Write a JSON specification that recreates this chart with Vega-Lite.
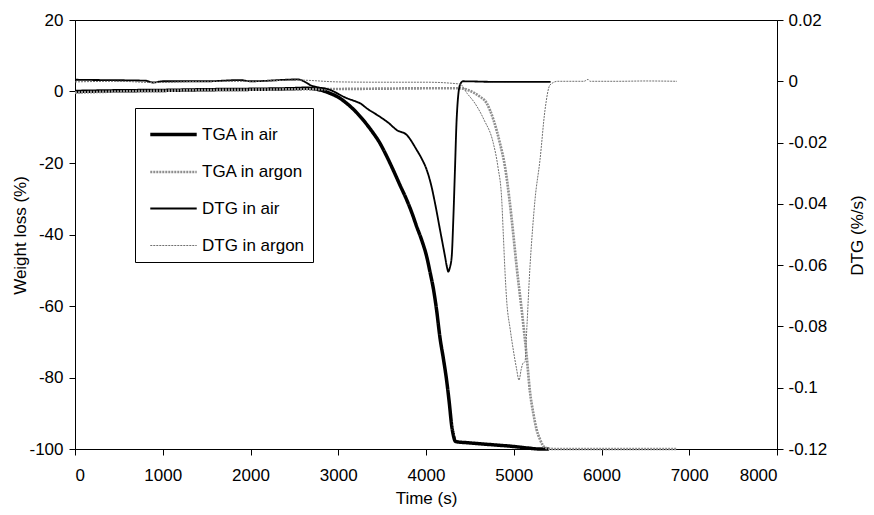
{
  "$schema": "https://vega.github.io/schema/vega-lite/v6.json",
  "width": 702,
  "height": 429,
  "autosize": {"type": "none"},
  "padding": {"left": 75, "top": 20, "right": 97, "bottom": 66},
  "background": "white",
  "config": {
    "font": "Liberation Sans",
    "view": {"stroke": "black", "strokeWidth": 1},
    "axis": {
      "grid": false,
      "domainColor": "black",
      "tickColor": "black",
      "labelColor": "black",
      "titleColor": "black",
      "labelFontSize": 17,
      "titleFontSize": 17,
      "titleFontWeight": "normal",
      "tickSize": 6
    },
    "legend": {"labelFont": "Liberation Sans"}
  },
  "data": {
    "values": [
      {"s": "TGA in air", "t": 0, "v": 0.0},
      {"s": "TGA in air", "t": 500, "v": 0.2},
      {"s": "TGA in air", "t": 1000, "v": 0.3},
      {"s": "TGA in air", "t": 1500, "v": 0.5},
      {"s": "TGA in air", "t": 2000, "v": 0.6},
      {"s": "TGA in air", "t": 2500, "v": 0.8},
      {"s": "TGA in air", "t": 2640, "v": 0.9},
      {"s": "TGA in air", "t": 2780, "v": 0.5},
      {"s": "TGA in air", "t": 2906, "v": -0.5},
      {"s": "TGA in air", "t": 3000, "v": -1.6},
      {"s": "TGA in air", "t": 3096, "v": -3.3},
      {"s": "TGA in air", "t": 3190, "v": -5.4},
      {"s": "TGA in air", "t": 3285, "v": -8.0},
      {"s": "TGA in air", "t": 3380, "v": -11.0},
      {"s": "TGA in air", "t": 3476, "v": -14.5},
      {"s": "TGA in air", "t": 3550, "v": -18.0},
      {"s": "TGA in air", "t": 3627, "v": -22.0},
      {"s": "TGA in air", "t": 3700, "v": -26.0},
      {"s": "TGA in air", "t": 3780, "v": -30.3},
      {"s": "TGA in air", "t": 3840, "v": -34.0},
      {"s": "TGA in air", "t": 3894, "v": -37.8},
      {"s": "TGA in air", "t": 3950, "v": -41.5},
      {"s": "TGA in air", "t": 4008, "v": -46.2},
      {"s": "TGA in air", "t": 4050, "v": -51.0},
      {"s": "TGA in air", "t": 4083, "v": -55.0},
      {"s": "TGA in air", "t": 4120, "v": -61.0},
      {"s": "TGA in air", "t": 4160, "v": -69.0},
      {"s": "TGA in air", "t": 4200, "v": -75.0},
      {"s": "TGA in air", "t": 4236, "v": -81.0},
      {"s": "TGA in air", "t": 4265, "v": -87.0},
      {"s": "TGA in air", "t": 4293, "v": -93.5},
      {"s": "TGA in air", "t": 4315, "v": -96.5},
      {"s": "TGA in air", "t": 4335, "v": -97.9},
      {"s": "TGA in air", "t": 4500, "v": -98.3},
      {"s": "TGA in air", "t": 4750, "v": -98.8},
      {"s": "TGA in air", "t": 5000, "v": -99.3},
      {"s": "TGA in air", "t": 5150, "v": -99.7},
      {"s": "TGA in air", "t": 5300, "v": -100.0},
      {"s": "TGA in air", "t": 5400, "v": -100.0},

      {"s": "TGA in argon", "t": 0, "v": -0.3},
      {"s": "TGA in argon", "t": 500, "v": 0.0},
      {"s": "TGA in argon", "t": 1000, "v": 0.2},
      {"s": "TGA in argon", "t": 1500, "v": 0.4},
      {"s": "TGA in argon", "t": 2000, "v": 0.5},
      {"s": "TGA in argon", "t": 2500, "v": 0.6},
      {"s": "TGA in argon", "t": 3000, "v": 0.7},
      {"s": "TGA in argon", "t": 3500, "v": 0.8},
      {"s": "TGA in argon", "t": 4000, "v": 0.9},
      {"s": "TGA in argon", "t": 4387, "v": 0.9},
      {"s": "TGA in argon", "t": 4500, "v": 0.2},
      {"s": "TGA in argon", "t": 4600, "v": -1.2},
      {"s": "TGA in argon", "t": 4692, "v": -3.3},
      {"s": "TGA in argon", "t": 4770, "v": -8.0},
      {"s": "TGA in argon", "t": 4843, "v": -14.5},
      {"s": "TGA in argon", "t": 4900, "v": -21.0},
      {"s": "TGA in argon", "t": 4950, "v": -30.0},
      {"s": "TGA in argon", "t": 4995, "v": -40.0},
      {"s": "TGA in argon", "t": 5033, "v": -49.0},
      {"s": "TGA in argon", "t": 5090, "v": -61.0},
      {"s": "TGA in argon", "t": 5147, "v": -74.0},
      {"s": "TGA in argon", "t": 5185, "v": -84.0},
      {"s": "TGA in argon", "t": 5223, "v": -90.0},
      {"s": "TGA in argon", "t": 5260, "v": -94.5},
      {"s": "TGA in argon", "t": 5299, "v": -97.3},
      {"s": "TGA in argon", "t": 5356, "v": -99.6},
      {"s": "TGA in argon", "t": 5450, "v": -100.0},
      {"s": "TGA in argon", "t": 6000, "v": -100.0},
      {"s": "TGA in argon", "t": 6860, "v": -100.0},

      {"s": "DTG in air", "t": 0, "v": 0.0005},
      {"s": "DTG in air", "t": 300, "v": 0.0004},
      {"s": "DTG in air", "t": 800, "v": 0.0002},
      {"s": "DTG in air", "t": 890, "v": -0.0004},
      {"s": "DTG in air", "t": 1000, "v": 0.0},
      {"s": "DTG in air", "t": 1500, "v": 0.0},
      {"s": "DTG in air", "t": 1880, "v": 0.0004},
      {"s": "DTG in air", "t": 2000, "v": 0.0},
      {"s": "DTG in air", "t": 2540, "v": 0.0006},
      {"s": "DTG in air", "t": 2640, "v": -0.0005},
      {"s": "DTG in air", "t": 2678, "v": -0.0012},
      {"s": "DTG in air", "t": 2906, "v": -0.0028},
      {"s": "DTG in air", "t": 3096, "v": -0.0055},
      {"s": "DTG in air", "t": 3210, "v": -0.0067},
      {"s": "DTG in air", "t": 3250, "v": -0.0072},
      {"s": "DTG in air", "t": 3324, "v": -0.0088},
      {"s": "DTG in air", "t": 3476, "v": -0.0116},
      {"s": "DTG in air", "t": 3570, "v": -0.0135},
      {"s": "DTG in air", "t": 3666, "v": -0.0159},
      {"s": "DTG in air", "t": 3780, "v": -0.0175},
      {"s": "DTG in air", "t": 3894, "v": -0.0224},
      {"s": "DTG in air", "t": 3950, "v": -0.0252},
      {"s": "DTG in air", "t": 4008, "v": -0.0289},
      {"s": "DTG in air", "t": 4060, "v": -0.034},
      {"s": "DTG in air", "t": 4103, "v": -0.0398},
      {"s": "DTG in air", "t": 4160, "v": -0.0485},
      {"s": "DTG in air", "t": 4217, "v": -0.0572},
      {"s": "DTG in air", "t": 4240, "v": -0.0608},
      {"s": "DTG in air", "t": 4254, "v": -0.0621},
      {"s": "DTG in air", "t": 4270, "v": -0.061},
      {"s": "DTG in air", "t": 4293, "v": -0.0572},
      {"s": "DTG in air", "t": 4311, "v": -0.0453},
      {"s": "DTG in air", "t": 4330, "v": -0.0289},
      {"s": "DTG in air", "t": 4349, "v": -0.0126},
      {"s": "DTG in air", "t": 4387, "v": -0.0012},
      {"s": "DTG in air", "t": 4420, "v": 0.0},
      {"s": "DTG in air", "t": 4800, "v": -0.0002},
      {"s": "DTG in air", "t": 5200, "v": -0.0002},
      {"s": "DTG in air", "t": 5420, "v": -0.0002},

      {"s": "DTG in argon", "t": 0, "v": -0.0002},
      {"s": "DTG in argon", "t": 500, "v": 0.0},
      {"s": "DTG in argon", "t": 890, "v": -0.0004},
      {"s": "DTG in argon", "t": 1500, "v": 0.0},
      {"s": "DTG in argon", "t": 2000, "v": 0.0},
      {"s": "DTG in argon", "t": 2540, "v": 0.0004},
      {"s": "DTG in argon", "t": 3000, "v": -0.0002},
      {"s": "DTG in argon", "t": 3500, "v": -0.0003},
      {"s": "DTG in argon", "t": 4000, "v": -0.0003},
      {"s": "DTG in argon", "t": 4387, "v": -0.0009},
      {"s": "DTG in argon", "t": 4470, "v": -0.004},
      {"s": "DTG in argon", "t": 4558, "v": -0.0072},
      {"s": "DTG in argon", "t": 4660, "v": -0.0125},
      {"s": "DTG in argon", "t": 4767, "v": -0.0202},
      {"s": "DTG in argon", "t": 4820, "v": -0.028},
      {"s": "DTG in argon", "t": 4863, "v": -0.0387},
      {"s": "DTG in argon", "t": 4881, "v": -0.05},
      {"s": "DTG in argon", "t": 4900, "v": -0.062},
      {"s": "DTG in argon", "t": 4919, "v": -0.0714},
      {"s": "DTG in argon", "t": 4960, "v": -0.081},
      {"s": "DTG in argon", "t": 4995, "v": -0.0877},
      {"s": "DTG in argon", "t": 5030, "v": -0.0935},
      {"s": "DTG in argon", "t": 5060, "v": -0.0975},
      {"s": "DTG in argon", "t": 5085, "v": -0.094},
      {"s": "DTG in argon", "t": 5105, "v": -0.092},
      {"s": "DTG in argon", "t": 5128, "v": -0.0915},
      {"s": "DTG in argon", "t": 5150, "v": -0.08},
      {"s": "DTG in argon", "t": 5185, "v": -0.0605},
      {"s": "DTG in argon", "t": 5215, "v": -0.048},
      {"s": "DTG in argon", "t": 5242, "v": -0.0387},
      {"s": "DTG in argon", "t": 5299, "v": -0.0257},
      {"s": "DTG in argon", "t": 5356, "v": -0.0094},
      {"s": "DTG in argon", "t": 5413, "v": -0.0012},
      {"s": "DTG in argon", "t": 5500, "v": 0.0},
      {"s": "DTG in argon", "t": 5800, "v": 0.0},
      {"s": "DTG in argon", "t": 5846, "v": 0.0006},
      {"s": "DTG in argon", "t": 5870, "v": 0.0},
      {"s": "DTG in argon", "t": 6200, "v": 0.0},
      {"s": "DTG in argon", "t": 6500, "v": 0.0001},
      {"s": "DTG in argon", "t": 6860, "v": 0.0}
    ]
  },
  "encoding": {
    "x": {
      "field": "t",
      "type": "quantitative",
      "scale": {"domain": [0, 8000], "nice": false},
      "axis": {
        "title": "Time (s)",
        "values": [0, 1000, 2000, 3000, 4000, 5000, 6000, 7000, 8000],
        "labelExpr": "'' + datum.value",
        "labelPadding": 12,
        "titleX": 351,
        "titleY": 49,
        "titleBaseline": "middle"
      }
    },
    "color": {
      "field": "s",
      "type": "nominal",
      "scale": {
        "domain": ["TGA in air", "TGA in argon", "DTG in air", "DTG in argon"],
        "range": ["#000000", "#8f8f8f", "#000000", "#707070"]
      },
      "legend": {
        "orient": "none",
        "legendX": 60,
        "legendY": 88,
        "title": null,
        "symbolType": "M-1.4,0H1.4",
        "symbolSize": 1100,
        "symbolOffset": 12,
        "labelFontSize": 17,
        "labelColor": "black",
        "strokeColor": "black",
        "fillColor": "white",
        "padding": 8,
        "rowPadding": 11,
        "labelOffset": 10
      }
    },
    "strokeWidth": {
      "field": "s",
      "type": "nominal",
      "scale": {
        "domain": ["TGA in air", "TGA in argon", "DTG in air", "DTG in argon"],
        "range": [3.5, 1]
      }
    },
    "strokeDash": {
      "field": "s",
      "type": "nominal",
      "scale": {
        "domain": ["TGA in air", "TGA in argon", "DTG in air", "DTG in argon"],
        "range": [[1, 0], [2, 1], [1, 0], [2, 1]]
      }
    }
  },
  "layer": [
    {
      "transform": [{"filter": "indexof(datum.s, 'TGA') == 0"}],
      "mark": {"type": "line", "interpolate": "monotone"},
      "encoding": {
        "y": {
          "field": "v",
          "type": "quantitative",
          "scale": {"domain": [-100, 20], "nice": false},
          "axis": {
            "title": "Weight loss (%)",
            "orient": "left",
            "values": [20, 0, -20, -40, -60, -80, -100],
            "labelExpr": "'' + datum.value",
            "labelPadding": 6,
            "titleX": -55,
            "titleY": 215,
            "titleAngle": -90,
            "titleBaseline": "middle",
            "titleAlign": "center"
          }
        }
      }
    },
    {
      "transform": [{"filter": "indexof(datum.s, 'DTG') == 0"}],
      "mark": {"type": "line", "interpolate": "monotone"},
      "encoding": {
        "y": {
          "field": "v",
          "type": "quantitative",
          "scale": {"domain": [-0.12, 0.02], "nice": false},
          "axis": {
            "title": "DTG (%/s)",
            "orient": "right",
            "values": [0.02, 0, -0.02, -0.04, -0.06, -0.08, -0.1, -0.12],
            "labelExpr": "'' + datum.value",
            "labelPadding": 5,
            "titleX": 80,
            "titleY": 215,
            "titleAngle": -90,
            "titleBaseline": "middle",
            "titleAlign": "center"
          }
        }
      }
    }
  ],
  "resolve": {"scale": {"y": "independent"}}
}
